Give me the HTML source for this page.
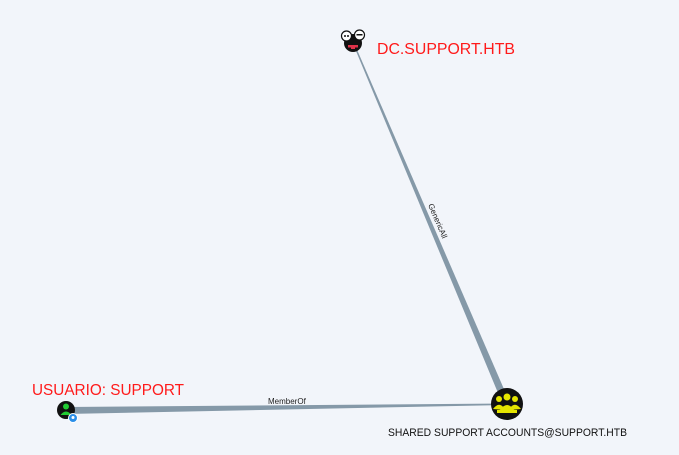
<!DOCTYPE html>
<html><head><meta charset="utf-8"><style>
html,body{margin:0;padding:0;background:#f2f5fa;}
svg{display:block}
</style></head><body>
<svg width="679" height="455" viewBox="0 0 679 455" xmlns="http://www.w3.org/2000/svg" font-family="Liberation Sans, sans-serif">
<rect width="679" height="455" fill="#f2f5fa"/>
<polygon points="353.5,45 355,45 510,403 503,405" fill="#8599a8"/>
<polygon points="66,407 66,414 506,405 506,403.5" fill="#8599a8"/>
<text x="0" y="0" font-size="8" fill="#222" transform="translate(428,205) rotate(67)">GenericAll</text>
<text x="268" y="404" font-size="8" fill="#222">MemberOf</text>
<circle cx="353" cy="43" r="9" fill="#111"/>
<rect x="348" y="45" width="10" height="2.5" fill="#e0334a"/>
<rect x="351" y="47" width="4" height="2" fill="#e0334a"/>
<circle cx="346.5" cy="36" r="5" fill="#fff" stroke="#111" stroke-width="1.2"/>
<circle cx="359.5" cy="35" r="5" fill="#fff" stroke="#111" stroke-width="1.2"/>
<circle cx="345" cy="36" r="1" fill="#111"/><circle cx="348" cy="36" r="1" fill="#111"/>
<rect x="356.5" y="34" width="6" height="1.5" fill="#111"/>
<text x="377" y="54" font-size="16" fill="#ff1a1a" textLength="138" lengthAdjust="spacingAndGlyphs">DC.SUPPORT.HTB</text>
<circle cx="66" cy="410" r="9" fill="#111"/>
<circle cx="66" cy="406.5" r="3" fill="#22cc33"/>
<path d="M60.5,415 Q66,408 71.5,415 Z" fill="#22cc33"/>
<circle cx="73" cy="418" r="4.5" fill="#2a8ee8" stroke="#fff" stroke-width="1"/>
<circle cx="73" cy="417.5" r="1.5" fill="#fff"/>
<text x="32" y="395" font-size="16" fill="#ff1a1a" textLength="152" lengthAdjust="spacingAndGlyphs">USUARIO: SUPPORT</text>
<circle cx="507" cy="404" r="16" fill="#111"/>
<circle cx="507" cy="397" r="3.5" fill="#e5e500"/>
<circle cx="499" cy="399" r="3" fill="#e5e500"/>
<circle cx="515" cy="399" r="3" fill="#e5e500"/>
<path d="M500,410 Q507,400 514,410 Z" fill="#e5e500"/>
<path d="M493,409 Q499,401 504,408 L504,410 Z" fill="#e5e500"/>
<path d="M521,409 Q515,401 510,408 L510,410 Z" fill="#e5e500"/>
<rect x="497" y="410" width="20" height="3" fill="#e5e500"/>
<text x="388" y="436" font-size="11" fill="#111" textLength="239" lengthAdjust="spacingAndGlyphs">SHARED SUPPORT ACCOUNTS@SUPPORT.HTB</text>
</svg>
</body></html>
